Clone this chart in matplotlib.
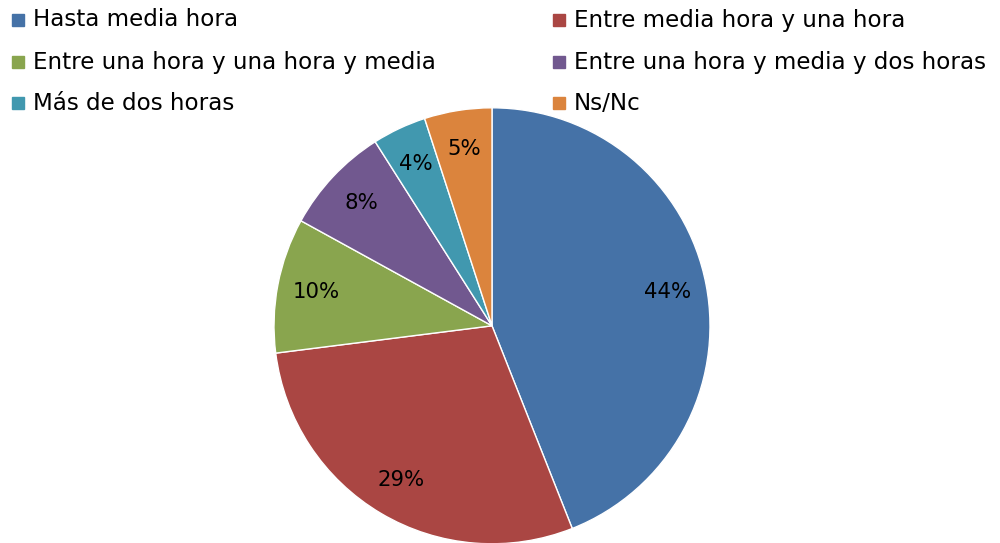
import matplotlib.pyplot as plt
from matplotlib.patches import Rectangle

labels = ['Hasta media hora', 'Entre media hora y una hora',
          'Entre una hora y una hora y media', 'Entre una hora y media y dos horas',
          'Más de dos horas', 'Ns/Nc']
values = [44, 29, 10, 8, 4, 5]
colors = ['#4572A7', '#AA4643', '#89A54E', '#71588F', '#4198AF', '#DB843D']

plt.rcParams['font.family'] = ['Verdana', 'DejaVu Sans']

fig = plt.figure(figsize=(10, 5.43), dpi=100)
ax = fig.add_axes([0.274, -0.0015, 0.436, 0.803])
ax.pie(values, colors=colors, startangle=90, counterclock=False,
       autopct='%d%%', pctdistance=0.82,
       wedgeprops=dict(edgecolor='white', linewidth=1),
       textprops=dict(fontsize=15.3, color='black'))
ax.set_xlim(-1, 1)
ax.set_ylim(-1, 1)
ax.set_aspect('equal')

# legend, two columns
col_x = [0.012, 0.553]
row_y = [1 - 20 / 543, 1 - 62 / 543, 1 - 103 / 543]
sq_w, sq_h = 0.012, 0.022
for i, (lab, c) in enumerate(zip(labels, colors)):
    x = col_x[i % 2]
    y = row_y[i // 2]
    fig.patches.append(Rectangle((x, y - sq_h / 2), sq_w, sq_h, color=c,
                                 transform=fig.transFigure, figure=fig))
    fig.text(x + 0.021, y, lab, fontsize=16.6, va='center', ha='left')

fig.savefig('out.png', dpi=100)
